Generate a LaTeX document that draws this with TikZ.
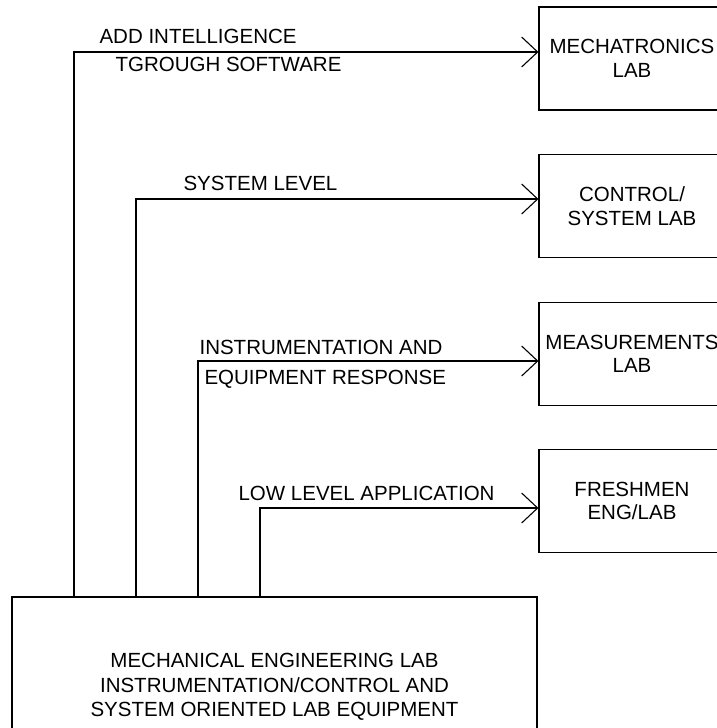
\documentclass[tikz,border=0pt]{standalone}
\usepackage{fontspec}
\setmainfont{Liberation Sans}
\usetikzlibrary{arrows.meta,calc}
\begin{document}
\begin{tikzpicture}[x=1pt,y=-1pt,
  line width=1.1pt,
  font=\fontsize{20.5}{23.5}\selectfont,
  labbox/.style={draw,minimum width=186pt,minimum height=103pt,inner sep=0pt,align=center},
  basebox/.style={draw,minimum width=525pt,minimum height=180pt,inner sep=0pt,align=center,font=\fontsize{20.5}{24.5}\selectfont},
  lbl/.style={anchor=base west,inner sep=0pt},
  arr/.style={-{Straight Barb[length=16pt,width=30pt,line width=1.1pt]}}]
\useasboundingbox (0,0) rectangle (716,728);
% lab boxes
\node[labbox] (mech) at (632,58.5) {MECHATRONICS\\LAB};
\node[labbox] (ctrl) at (632,206) {CONTROL/\\SYSTEM LAB};
\node[labbox] (meas) at (632,354) {MEASUREMENTS\\LAB};
\node[labbox] (fresh) at (632,501) {FRESHMEN\\ENG/LAB};
% base box
\node[basebox] (base) at (274.5,687) {MECHANICAL ENGINEERING LAB\\INSTRUMENTATION/CONTROL AND\\SYSTEM ORIENTED LAB EQUIPMENT};
% connector end points
\coordinate (t1) at (mech.west |- 0,52);
\coordinate (t2) at (ctrl.west |- 0,199);
\coordinate (t3) at (meas.west |- 0,361);
\coordinate (t4) at (fresh.west |- 0,508);
\coordinate (s1) at (base.north -| 74,0);
\coordinate (s2) at (base.north -| 136,0);
\coordinate (s3) at (base.north -| 198,0);
\coordinate (s4) at (base.north -| 260,0);
\draw[arr] (s1) |- (t1);
\draw[arr] (s2) |- (t2);
\draw[arr] (s3) |- (t3);
\draw[arr] (s4) |- (t4);
% labels
\node[lbl] (l1a) at (99,43) {ADD INTELLIGENCE};
\node[lbl] (l1b) at (115,71) {TGROUGH SOFTWARE};
\node[lbl] (l2) at (183,190) {SYSTEM LEVEL};
\node[lbl] (l3a) at (199,354) {INSTRUMENTATION AND};
\node[lbl] (l3b) at (204,384) {EQUIPMENT RESPONSE};
\node[lbl] (l4) at (238,500) {LOW LEVEL APPLICATION};
\end{tikzpicture}
\end{document}
